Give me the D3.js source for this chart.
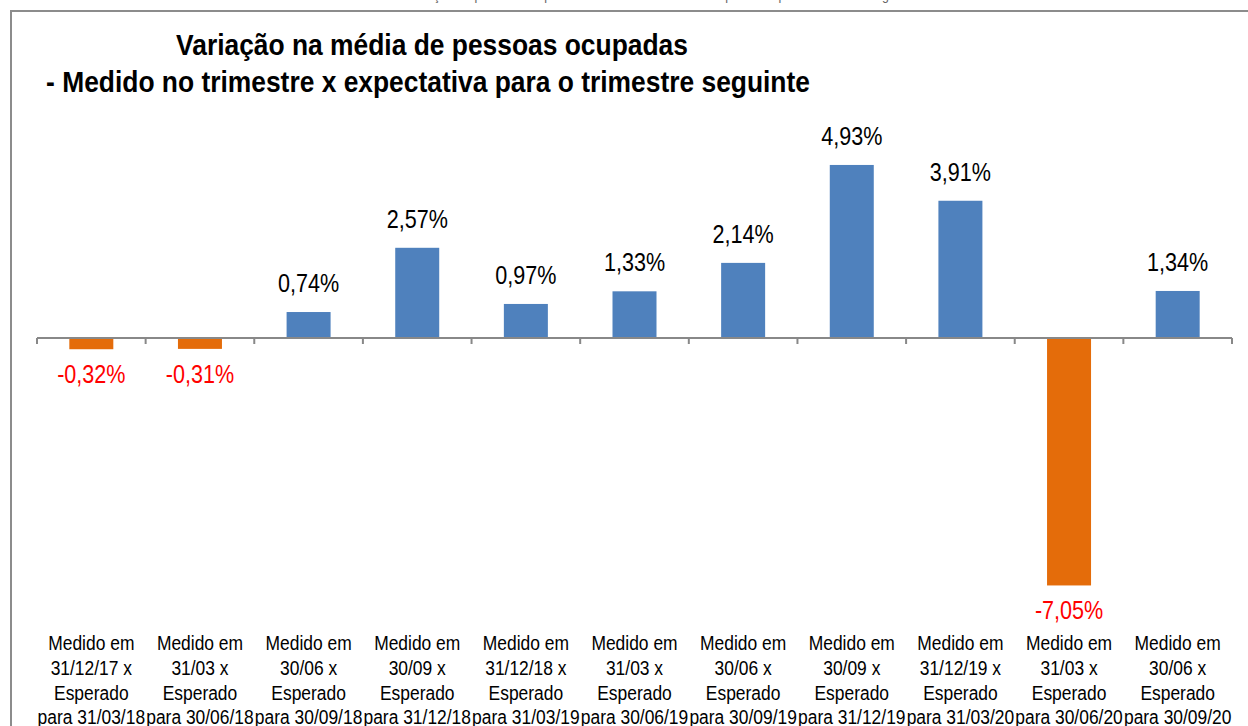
<!DOCTYPE html>
<html lang="pt">
<head>
<meta charset="utf-8">
<title>Variação na média de pessoas ocupadas</title>
<script src="https://cdn.jsdelivr.net/npm/d3@7"></script>
<style>
  body { margin: 0; background: #fff; }
  svg { display: block; font-family: "Liberation Sans", Arial, sans-serif; }
</style>
</head>
<body>
<svg width="1248" height="726"></svg>
<script>
// dados
var periodos = ['31/12/17', '31/03', '30/06', '30/09', '31/12/18', '31/03', '30/06', '30/09', '31/12/19', '31/03', '30/06'];
var esperados = ['31/03/18', '30/06/18', '30/09/18', '31/12/18', '31/03/19', '30/06/19', '30/09/19', '31/12/19', '31/03/20', '30/06/20', '30/09/20'];
var variacao = [-0.32, -0.31, 0.74, 2.57, 0.97, 1.33, 2.14, 4.93, 3.91, -7.05, 1.34];
var yDomain = [-8, 5];

// sem fonte narrow instalada, comprime na horizontal
var narrow = 0.83;

var svg = d3.select('svg');

// moldura
svg.append('rect')
  .attr('x', 11).attr('y', 11)
  .attr('width', 1300).attr('height', 800)
  .attr('fill', 'none')
  .attr('stroke', '#8c8c8c')
  .attr('stroke-width', 2);

// linha de cima cortada
svg.append('text')
  .attr('transform', 'translate(630,0) scale(' + narrow + ',1)')
  .attr('text-anchor', 'middle')
  .style('font-size', '15px')
  .style('fill', '#666')
  .text('Gráfico 1 - Variação de pessoas ocupadas - medido no trimestre x expectativa para o trimestre seguinte');

// titulo
var title = svg.append('g')
  .style('font-weight', 'bold')
  .style('font-size', '29px')
  .style('fill', '#000');
title.append('text')
  .attr('transform', 'translate(432,55) scale(0.91,1)')
  .attr('text-anchor', 'middle')
  .text('Variação na média de pessoas ocupadas');
title.append('text')
  .attr('transform', 'translate(428,92) scale(0.91,1)')
  .attr('text-anchor', 'middle')
  .text('- Medido no trimestre x expectativa para o trimestre seguinte');

var idx = d3.range(variacao.length);
var xScale = d3.scaleBand().domain(idx).range([37, 1232]).padding(0);
var yScale = d3.scaleLinear().domain(yDomain).range([338 + 8 * 35.1, 338 - 5 * 35.1]);
var barW = xScale.bandwidth() * 0.405;

// barras
svg.append('g')
  .selectAll('rect')
  .data(variacao)
  .enter()
  .append('rect')
  .attr('x', function(d, i) { return xScale(i) + (xScale.bandwidth() - barW) / 2; })
  .attr('y', function(d) { return yScale(Math.max(0, d)); })
  .attr('width', barW)
  .attr('height', function(d) { return Math.abs(yScale(d) - yScale(0)); })
  .style('fill', function(d) { return d < 0 ? '#E46C0A' : '#4F81BD'; });

// eixo
var axisG = svg.append('g');
axisG.append('line')
  .attr('x1', xScale.range()[0]).attr('x2', xScale.range()[1])
  .attr('y1', yScale(0)).attr('y2', yScale(0))
  .attr('stroke', '#888').attr('stroke-width', 2);
axisG.selectAll('line.tick')
  .data(d3.range(variacao.length + 1))
  .enter()
  .append('line')
  .attr('class', 'tick')
  .attr('x1', function(i) { return i < variacao.length ? xScale(i) : xScale.range()[1]; })
  .attr('x2', function(i) { return i < variacao.length ? xScale(i) : xScale.range()[1]; })
  .attr('y1', yScale(0)).attr('y2', yScale(0) + 6)
  .attr('stroke', '#888').attr('stroke-width', 2);

// rotulos de valor
var ptBR = d3.formatLocale({ decimal: ',', thousands: '.', grouping: [3], currency: ['R$', ''], minus: '-' });
var fmt = function(d) { return ptBR.format('.2f')(d) + '%'; };
svg.append('g')
  .selectAll('text')
  .data(variacao)
  .enter()
  .append('text')
  .attr('transform', function(d, i) {
    var cx = xScale(i) + xScale.bandwidth() / 2;
    var ty = d < 0 ? yScale(d) + 34 : yScale(d) - 20;
    return 'translate(' + cx + ',' + ty + ') scale(' + narrow + ',1)';
  })
  .attr('text-anchor', 'middle')
  .style('font-size', '26px')
  .style('fill', function(d) { return d < 0 ? '#FF0000' : '#000'; })
  .text(fmt);

// rotulos das categorias
var cat = svg.append('g')
  .selectAll('text')
  .data(idx)
  .enter()
  .append('text')
  .attr('transform', function(i) {
    return 'translate(' + (xScale(i) + xScale.bandwidth() / 2) + ',0) scale(' + narrow + ',1)';
  })
  .attr('text-anchor', 'middle')
  .style('font-size', '21px')
  .style('fill', '#000');
cat.each(function(i) {
  var t = d3.select(this);
  var linhas = ['Medido em', periodos[i] + ' x', 'Esperado', 'para ' + esperados[i]];
  linhas.forEach(function(l, k) {
    t.append('tspan').attr('x', 0).attr('y', 650 + k * 24.8).text(l);
  });
});
</script>
</body>
</html>
